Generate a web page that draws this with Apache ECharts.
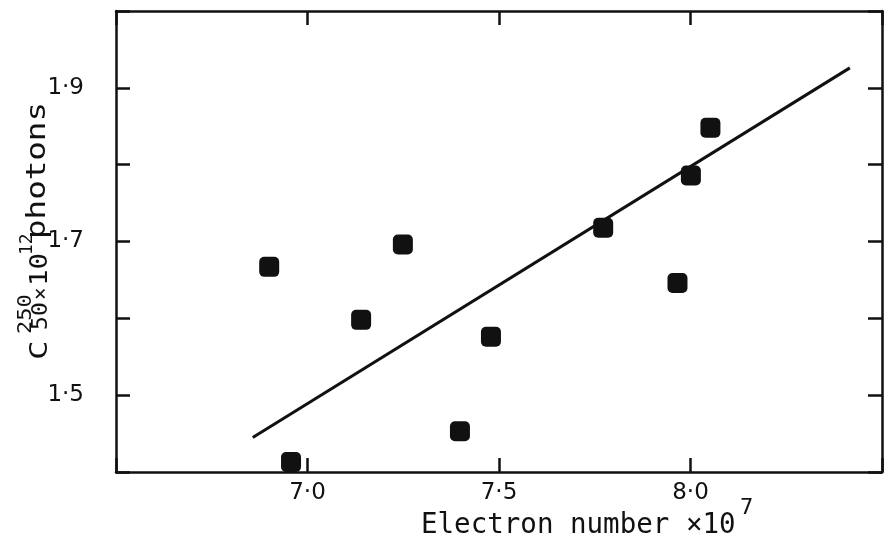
<!DOCTYPE html>
<html>
<head>
<meta charset="utf-8">
<script src="https://cdn.jsdelivr.net/npm/echarts@6/dist/echarts.min.js"></script>
<style>
html,body{margin:0;padding:0;background:#fff;}
#chart{width:890px;height:552px;}
</style>
</head>
<body>
<div id="chart"></div>
<script>
// Data
var electronNumber = [6.90, 6.957, 7.14, 7.249, 7.398, 7.479, 7.772, 7.966, 8.001, 8.052];
var c50photons    = [1.667, 1.413, 1.598, 1.696, 1.453, 1.576, 1.718, 1.646, 1.786, 1.848];
var fitX = [6.857, 8.416];
var fitY = [1.445, 1.926];
var xTickValues = [7.0, 7.5, 8.0];
var xTickLabels = ['7·0', '7·5', '8·0'];
var yTickValues = [1.5, 1.7, 1.9];
var yTickLabels = ['1·5', '1·7', '1·9'];

function pick(values, labels) {
  return function (v) {
    for (var i = 0; i < values.length; i++) {
      if (Math.abs(v - values[i]) < 1e-6) return labels[i];
    }
    return '';
  };
}

var chart = echarts.init(document.getElementById('chart'));
var ink = '#111';
var lineStyle = {color: ink, width: 2.5};
var tickStyle = {show: true, inside: true, length: 14, lineStyle: {color: ink, width: 2.5}};
var mono = '"DejaVu Sans Mono"';

var option = {
  animation: false,
  backgroundColor: '#fff',
  grid: {left: 116, right: 8, top: 11, bottom: 80},
  xAxis: [{
    type: 'value', position: 'bottom', min: 6.5, max: 8.5, interval: 0.5,
    axisLine: {show: true, lineStyle: lineStyle},
    axisTick: tickStyle,
    splitLine: {show: false},
    axisLabel: {show: true, margin: 10, color: ink, fontFamily: 'DejaVu Sans', fontSize: 23,
      formatter: pick(xTickValues, xTickLabels), showMinLabel: true, showMaxLabel: true}
  }, {
    type: 'value', position: 'top', min: 6.5, max: 8.5, interval: 0.5,
    axisLine: {show: true, lineStyle: lineStyle},
    axisTick: tickStyle,
    splitLine: {show: false},
    axisLabel: {show: false}
  }],
  yAxis: [{
    type: 'value', position: 'left', min: 1.4, max: 2.0, interval: 0.1,
    axisLine: {show: true, lineStyle: lineStyle},
    axisTick: tickStyle,
    splitLine: {show: false},
    axisLabel: {show: true, margin: 32, color: ink, fontFamily: 'DejaVu Sans', fontSize: 23,
      formatter: pick(yTickValues, yTickLabels)}
  }, {
    type: 'value', position: 'right', min: 1.4, max: 2.0, interval: 0.1,
    axisLine: {show: true, lineStyle: lineStyle},
    axisTick: tickStyle,
    splitLine: {show: false},
    axisLabel: {show: false}
  }],
  graphic: [
    {type: 'text', left: 421, top: 512,
      style: {text: 'Electron number ×10', fill: ink, font: '27.5px ' + mono}},
    {type: 'text', left: 740, top: 497,
      style: {text: '7', fill: ink, font: '22px ' + mono}},
    {type: 'group', x: 50, y: 360, rotation: Math.PI / 2,
      children: [
        {type: 'text', x: 0, y: 2.5, style: {text: 'C', fill: ink, font: '25px ' + mono, verticalAlign: 'bottom'}, scaleX: 1.3},
        {type: 'text', x: 26, y: -14, style: {text: '250', fill: ink, font: '20px ' + mono, verticalAlign: 'bottom'}, scaleX: 1.1},
        {type: 'text', x: 30, y: 2.5, style: {text: '50', fill: ink, font: '21px ' + mono, verticalAlign: 'bottom'}, scaleX: 1.1},
        {type: 'text', x: 60, y: 2, style: {text: '×', fill: ink, font: '21px ' + mono, verticalAlign: 'bottom'}},
        {type: 'text', x: 74, y: 2.5, style: {text: '10', fill: ink, font: '24px ' + mono, verticalAlign: 'bottom'}, scaleX: 1.15},
        {type: 'text', x: 105, y: -14, style: {text: '12', fill: ink, font: '18px ' + mono, verticalAlign: 'bottom'}},
        {type: 'text', x: 121, y: 1.5, style: {text: 'photons', fill: ink, font: '26px ' + mono, verticalAlign: 'bottom'}, scaleX: 1.25}
      ]}
  ],
  series: [{
    type: 'scatter',
    xAxisIndex: 0, yAxisIndex: 0,
    symbol: 'roundRect', symbolSize: 20,
    itemStyle: {color: ink, opacity: 1},
    data: electronNumber.map(function (x, i) { return [x, c50photons[i]]; }),
    z: 3
  }, {
    type: 'line',
    xAxisIndex: 0, yAxisIndex: 0,
    showSymbol: false, symbol: 'none',
    lineStyle: {color: ink, width: 3},
    data: fitX.map(function (x, i) { return [x, fitY[i]]; }),
    z: 2
  }]
};
chart.setOption(option);
</script>
</body>
</html>
